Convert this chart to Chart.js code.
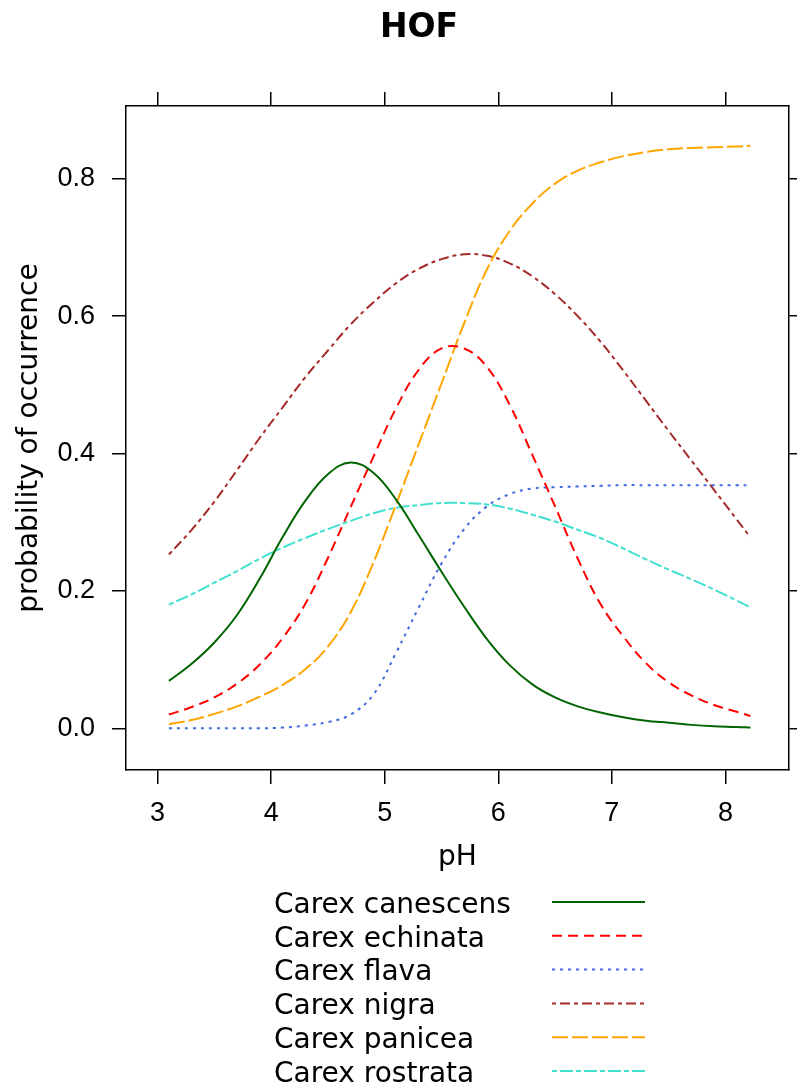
<!DOCTYPE html>
<html>
<head>
<meta charset="utf-8">
<script src="https://cdn.jsdelivr.net/npm/chart.js@4"></script>
<style>
  body { margin: 0; background: #fff; }
  #wrap { width: 797px; height: 1086px; }
</style>
</head>
<body>
<div id="wrap"><canvas id="hofChart" width="797" height="1086"></canvas></div>
<script>
// pH values where the fitted curves were read
const ph = [3.1, 3.3, 3.5, 3.7, 3.9, 4.1, 4.3, 4.5, 4.7, 4.9, 5.1, 5.3, 5.5, 5.7, 5.9,
            6.1, 6.3, 6.5, 6.7, 6.9, 7.1, 7.3, 7.5, 7.7, 7.9, 8.1, 8.22];

// probability of occurrence per species
const canescens = [0.069, 0.094, 0.125, 0.165, 0.218, 0.278, 0.331, 0.37, 0.387, 0.372, 0.333, 0.281, 0.228, 0.177, 0.13,
                   0.092, 0.064, 0.045, 0.032, 0.023, 0.016, 0.011, 0.008, 0.005, 0.003, 0.002, 0.001];
const echinata  = [0.02, 0.031, 0.045, 0.065, 0.093, 0.131, 0.181, 0.248, 0.322, 0.395, 0.466, 0.522, 0.553, 0.553, 0.526,
                   0.471, 0.398, 0.323, 0.247, 0.181, 0.134, 0.095, 0.067, 0.048, 0.034, 0.024, 0.018];
const flava     = [0, 0, 0, 0, 0, 0.001, 0.004, 0.009, 0.02, 0.049, 0.11, 0.176, 0.24, 0.29, 0.323,
                   0.341, 0.349, 0.351, 0.352, 0.353, 0.354, 0.354, 0.354, 0.354, 0.354, 0.354, 0.354];
const nigra     = [0.253, 0.289, 0.33, 0.376, 0.423, 0.467, 0.511, 0.55, 0.588, 0.62, 0.648, 0.669, 0.683, 0.69, 0.688,
                   0.677, 0.658, 0.632, 0.6, 0.563, 0.521, 0.477, 0.433, 0.39, 0.347, 0.304, 0.278];
const panicea   = [0.006, 0.012, 0.021, 0.032, 0.046, 0.063, 0.086, 0.119, 0.169, 0.241, 0.326, 0.414, 0.502, 0.59, 0.668,
                   0.724, 0.764, 0.793, 0.812, 0.824, 0.833, 0.839, 0.843, 0.845, 0.846, 0.847, 0.848];
const rostrata  = [0.18, 0.195, 0.212, 0.229, 0.247, 0.263, 0.277, 0.29, 0.302, 0.313, 0.321, 0.325, 0.328, 0.328, 0.326,
                   0.32, 0.311, 0.301, 0.289, 0.277, 0.262, 0.246, 0.231, 0.217, 0.202, 0.186, 0.176];

const speciesNames = ['Carex canescens', 'Carex echinata', 'Carex flava', 'Carex nigra', 'Carex panicea', 'Carex rostrata'];
const xTicks = [3, 4, 5, 6, 7, 8];
const yTicks = [0, 0.2, 0.4, 0.6, 0.8];

const X_MIN = 2.722, X_MAX = 8.56;
const Y_MIN = -0.0607, Y_MAX = 0.906;

const seriesValues = [canescens, echinata, flava, nigra, panicea, rostrata];
const colors = ['#006400', '#FF0000', '#4169E1', '#A52A2A', '#FFA500', '#40E0D0'];
const dashes = [[], [10, 6], [3, 5], [4, 4, 10, 4], [16, 4], [5, 3, 13, 3]];

const datasets = seriesValues.map((vals, i) => ({
    label: speciesNames[i],
    data: vals.map((v, j) => ({ x: ph[j], y: v })),
    borderColor: colors[i],
    borderDash: dashes[i],
    borderWidth: 2,
    pointRadius: 0,
    fill: false,
    tension: 0.4
}));

const textFont = { family: 'DejaVu Sans', size: 28 };
const tickFont = { family: 'Liberation Sans', size: 27 };

const gridOpts = { drawOnChartArea: false, drawTicks: true, tickLength: 14, color: '#000', lineWidth: 1.5 };
const borderOpts = { color: '#000', width: 1.5 };

// title and the key below the panel
const extras = {
    id: 'extras',
    afterDraw(chart) {
        const ctx = chart.ctx;
        ctx.save();
        ctx.fillStyle = '#000';
        ctx.font = 'bold 33px "DejaVu Sans"';
        ctx.textAlign = 'center';
        ctx.textBaseline = 'middle';
        ctx.fillText('HOF', 419, 28);

        ctx.font = '28px "DejaVu Sans"';
        ctx.textAlign = 'left';
        chart.data.datasets.forEach((ds, i) => {
            const y = 902 + i * 33.8;
            ctx.fillStyle = '#000';
            ctx.fillText(ds.label, 274, y + 3.5);
            ctx.beginPath();
            ctx.strokeStyle = ds.borderColor;
            ctx.lineWidth = 2;
            ctx.setLineDash(ds.borderDash);
            ctx.moveTo(552, y);
            ctx.lineTo(645, y);
            ctx.stroke();
        });
        ctx.restore();
    }
};

new Chart(document.getElementById('hofChart'), {
    type: 'line',
    data: { datasets: datasets },
    options: {
        responsive: false,
        animation: false,
        layout: { padding: { top: 92, bottom: 211, left: 0, right: 0 } },
        plugins: {
            legend: { display: false },
            title: { display: false },
            tooltip: { enabled: false }
        },
        scales: {
            x: {
                type: 'linear', position: 'bottom', min: X_MIN, max: X_MAX,
                afterBuildTicks: s => { s.ticks = xTicks.map(v => ({ value: v })); },
                afterFit: s => { s.height = 105; },
                ticks: { font: tickFont, color: '#000', padding: 13, maxRotation: 0 },
                grid: gridOpts,
                border: borderOpts,
                title: { display: true, text: 'pH', font: textFont, color: '#000', padding: 0 }
            },
            x2: {
                type: 'linear', position: 'top', min: X_MIN, max: X_MAX,
                afterBuildTicks: s => { s.ticks = xTicks.map(v => ({ value: v })); },
                afterFit: s => { s.height = 14; },
                ticks: { display: false },
                grid: gridOpts,
                border: borderOpts
            },
            y: {
                type: 'linear', position: 'left', min: Y_MIN, max: Y_MAX,
                afterBuildTicks: s => { s.ticks = yTicks.map(v => ({ value: v })); },
                afterFit: s => { s.width = 126; },
                ticks: { font: tickFont, color: '#000', padding: 17, callback: v => v.toFixed(1) },
                grid: gridOpts,
                border: borderOpts,
                title: { display: true, text: 'probability of occurrence', font: textFont, color: '#000', padding: { top: 13, bottom: 0 } }
            },
            y2: {
                type: 'linear', position: 'right', min: Y_MIN, max: Y_MAX,
                afterBuildTicks: s => { s.ticks = yTicks.map(v => ({ value: v })); },
                afterFit: s => { s.width = 8; },
                ticks: { display: false },
                grid: gridOpts,
                border: borderOpts
            }
        }
    },
    plugins: [extras]
});
</script>
</body>
</html>
